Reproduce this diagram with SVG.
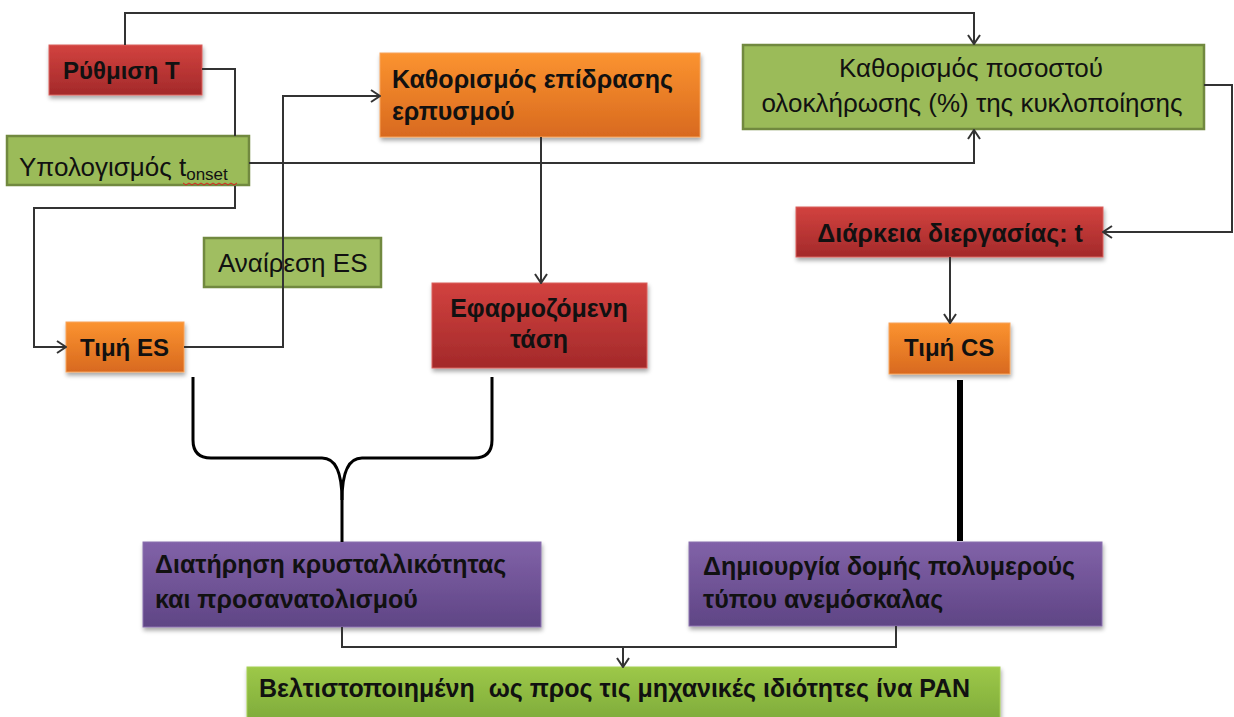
<svg xmlns="http://www.w3.org/2000/svg" width="1234" height="717" viewBox="0 0 1234 717">
<defs>
<linearGradient id="gRed" x1="0" y1="0" x2="0" y2="1"><stop offset="0" stop-color="#d2423f"/><stop offset="1" stop-color="#a3292a"/></linearGradient>
<linearGradient id="gOr" x1="0" y1="0" x2="0" y2="1"><stop offset="0" stop-color="#fb9330"/><stop offset="1" stop-color="#d8691f"/></linearGradient>
<linearGradient id="gPu" x1="0" y1="0" x2="0" y2="1"><stop offset="0" stop-color="#8162a8"/><stop offset="1" stop-color="#5f4585"/></linearGradient>
<linearGradient id="gGr2" x1="0" y1="0" x2="0" y2="1"><stop offset="0" stop-color="#9dc848"/><stop offset="1" stop-color="#7ba83a"/></linearGradient>
<filter id="sh" x="-10%" y="-10%" width="120%" height="130%"><feDropShadow dx="1" dy="3" stdDeviation="2" flood-color="#000" flood-opacity="0.35"/></filter>
<marker id="ar" markerUnits="userSpaceOnUse" markerWidth="14" markerHeight="14" viewBox="0 0 14 14" refX="13" refY="7" orient="auto">
<path d="M4,1 L13,7 L4,13" fill="none" stroke="#333" stroke-width="2"/>
</marker>
<style>
.red{fill:url(#gRed);stroke:#d9605c;stroke-width:1;filter:url(#sh)}
.or{fill:url(#gOr);stroke:#f7a35a;stroke-width:1;filter:url(#sh)}
.pu{fill:url(#gPu);stroke:#8a70ae;stroke-width:1;filter:url(#sh)}
.gr{fill:#9bbb59;stroke:#71893f;stroke-width:2.5}
.gr2{fill:url(#gGr2);stroke:#a6cf55;stroke-width:1;filter:url(#sh)}
.b{font-family:"Liberation Sans",Arial,sans-serif;font-weight:bold;fill:#111;font-size:25px;white-space:pre}
.r{font-family:"Liberation Sans",Arial,sans-serif;fill:#111;font-size:26px}
.s{font-size:24px}
.c{fill:none;stroke:#333;stroke-width:2}
.k{fill:none;stroke:#000;stroke-width:3}
</style>
</defs>
<rect width="1234" height="717" fill="#fff"/>

<g id="n-rythmisi"><rect class="red" x="49" y="45" width="153" height="50"/><text class="b s" x="63" y="79">Ρύθμιση T</text></g>
<g id="n-ypologismos"><rect class="gr" x="7" y="136" width="242" height="49"/><text class="r" x="19" y="176">Υπολογισμός t<tspan style="font-size:17px" dy="4">onset</tspan></text><path d="M183,183 l3,2 l3,-2 l3,2 l3,-2 l3,2 l3,-2 l3,2 l3,-2 l3,2 l3,-2 l3,2 l3,-2 l3,2 l3,-2 l3,2 l3,-2 l3,2 l3,-2" fill="none" stroke="#e02020" stroke-width="1"/></g>
<g id="n-epidrasi"><rect class="or" x="380" y="53" width="320" height="84"/><text class="b" x="392" y="88">Καθορισμός επίδρασης</text><text class="b" x="392" y="120">ερπυσμού</text></g>
<g id="n-pososto"><rect class="gr" x="743" y="45" width="461" height="84"/><text class="r" x="971" y="77" text-anchor="middle">Καθορισμός ποσοστού</text><text class="r" x="972" y="112" text-anchor="middle">ολοκλήρωσης (%) της κυκλοποίησης</text></g>
<g id="n-anairesi"><rect class="gr" x="204" y="238" width="177" height="49" fill-opacity="0.95"/><text class="r" x="218" y="272">Αναίρεση ES</text></g>
<g id="n-timi-es"><rect class="or" x="66" y="322" width="118" height="50"/><text class="b s" x="80" y="356">Τιμή ES</text></g>
<g id="n-tasi"><rect class="red" x="432" y="283" width="215" height="85"/><text class="b" x="539" y="317" text-anchor="middle">Εφαρμοζόμενη</text><text class="b" x="539" y="348" text-anchor="middle">τάση</text></g>
<g id="n-diarkeia"><rect class="red" x="796" y="207" width="307" height="50"/><text class="b" x="950" y="242" text-anchor="middle">Διάρκεια διεργασίας: t</text></g>
<g id="n-timi-cs"><rect class="or" x="889" y="323" width="121" height="51"/><text class="b s" x="904" y="356">Τιμή CS</text></g>
<g id="n-diatirisi"><rect class="pu" x="143" y="542" width="398" height="85"/><text class="b" x="155" y="573">Διατήρηση κρυσταλλικότητας</text><text class="b" x="155" y="608">και προσανατολισμού</text></g>
<g id="n-dimiourgia"><rect class="pu" x="689" y="542" width="413" height="84"/><text class="b" x="703" y="575">Δημιουργία δομής πολυμερούς</text><text class="b" x="703" y="608">τύπου ανεμόσκαλας</text></g>
<g id="n-pan"><rect class="gr2" x="247" y="667" width="753" height="60"/><text class="b" x="259" y="697" xml:space="preserve">Βελτιστοποιημένη  ως προς τις μηχανικές ιδιότητες ίνα PAN</text></g>

<g id="connectors">
<path class="c" d="M125,45 V13 H974 V44" marker-end="url(#ar)"/>
<path class="c" d="M202,69 H235 V136"/>
<path class="c" d="M235,186 V208 H34 V347 H66" marker-end="url(#ar)"/>
<path class="c" d="M249,163 H974 V130" marker-end="url(#ar)"/>
<path class="c" d="M184,347 H283 V96 H380" marker-end="url(#ar)"/>
<path class="c" d="M541,137 V283" marker-end="url(#ar)"/>
<path class="c" d="M1204,85 H1232 V232 H1103" marker-end="url(#ar)"/>
<path class="c" d="M950,257 V323" marker-end="url(#ar)"/>
<path d="M960,380 V541" stroke="#000" stroke-width="6" fill="none"/>
<path class="k" d="M193,377 V440 Q193,458 211,458 H322 Q342,458 342,500 V542"/>
<path class="k" d="M492,377 V440 Q492,458 474,458 H362 Q342,458 342,500"/>
<path class="c" d="M342,627 V647 H896 V626"/>
<path class="c" d="M623,647 V667" marker-end="url(#ar)"/>
</g>
</svg>
